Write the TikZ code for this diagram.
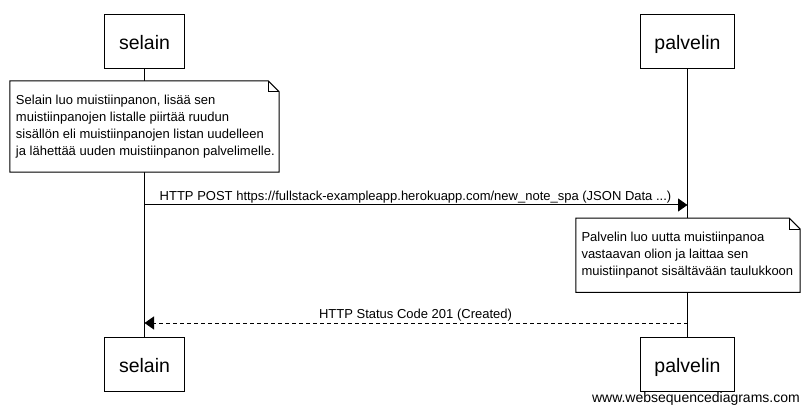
\documentclass[tikz,border=0pt]{standalone}
\usepackage{fontspec}
\setmainfont{Liberation Sans}
\usetikzlibrary{arrows.meta}
\pgfdeclarelayer{lifeline}
\pgfdeclarelayer{notebg}
\pgfsetlayers{lifeline,notebg,main}
\tikzset{
  actor/.style={draw, line width=1pt, minimum height=54pt, inner sep=0pt,
    font=\fontsize{19.5}{20}\selectfont, text height=16pt, text depth=0pt},
  noteframe/.style={inner sep=0pt},
  notetext/.style={inner sep=0pt, align=left, anchor=west, font=\fontsize{13}{17}\selectfont},
  noteshape/.style={draw, fill=white, line width=1pt},
  msg/.style={line width=1pt, -{Triangle[length=9.5pt, width=13pt]}},
  lbl/.style={font=\fontsize{13}{15}\selectfont, inner sep=0pt, anchor=base},
  life/.style={line width=1pt}
}
\begin{document}
\begin{tikzpicture}[x=1pt, y=-1pt]
\useasboundingbox (0,0) rectangle (809,414);
% actors
\node[actor, minimum width=80pt] (s1) at (144.5,42) {selain};
\node[actor, minimum width=94pt] (p1) at (687.5,42) {palvelin};
\node[actor, minimum width=80pt] (s2) at (144.5,364) {selain};
\node[actor, minimum width=94pt] (p2) at (687.5,364) {palvelin};
% lifelines
\begin{pgfonlayer}{lifeline}
\draw[life] (s1.south) -- (s2.north);
\draw[life] (p1.south) -- (p2.north);
\end{pgfonlayer}
% notes
\node[noteframe, minimum width=269pt, minimum height=91pt] (n1) at (144.5,126.5) {};
\node[notetext] (t1) at ([xshift=6pt]n1.west)
  {Selain luo muistiinpanon, lisää sen\\muistiinpanojen listalle piirtää ruudun\\sisällön eli muistiinpanojen listan uudelleen\\ja lähettää uuden muistiinpanon palvelimelle.};
\node[noteframe, minimum width=224pt, minimum height=74pt] (n2) at (688,255.3) {};
\node[notetext] (t2) at ([xshift=5.5pt]n2.west)
  {Palvelin luo uutta muistiinpanoa\\vastaavan olion ja laittaa sen\\muistiinpanot sisältävään taulukkoon};
\begin{pgfonlayer}{notebg}
\foreach \n in {n1,n2}{
  \draw[noteshape] (\n.north west) -- ([xshift=-11pt]\n.north east) -- ([yshift=-11pt]\n.north east)
    -- (\n.south east) -- (\n.south west) -- cycle;
  \draw[line width=0.6pt] ([xshift=-11pt]\n.north east) |- ([yshift=-11pt]\n.north east);
}
\end{pgfonlayer}
% messages
\coordinate (a1) at (s1.south |- 0,205);
\coordinate (a2) at (p1.south |- 0,205);
\draw[msg] (a1) -- (a2);
\node[lbl] (l1) at (415.5,200.5) {HTTP POST https://fullstack-exampleapp.herokuapp.com/new\_note\_spa (JSON Data ...)};
\coordinate (b1) at (p1.south |- 0,323);
\coordinate (b2) at (s1.south |- 0,323);
\draw[msg, dash pattern=on 4pt off 3pt] (b1) -- (b2);
\node[lbl] (l2) at (415.5,318.5) {HTTP Status Code 201 (Created)};
% watermark
\node[font=\fontsize{14}{16}\selectfont, inner sep=0pt, anchor=base east] (wm) at (800,402.5) {www.websequencediagrams.com};
\end{tikzpicture}
\end{document}
